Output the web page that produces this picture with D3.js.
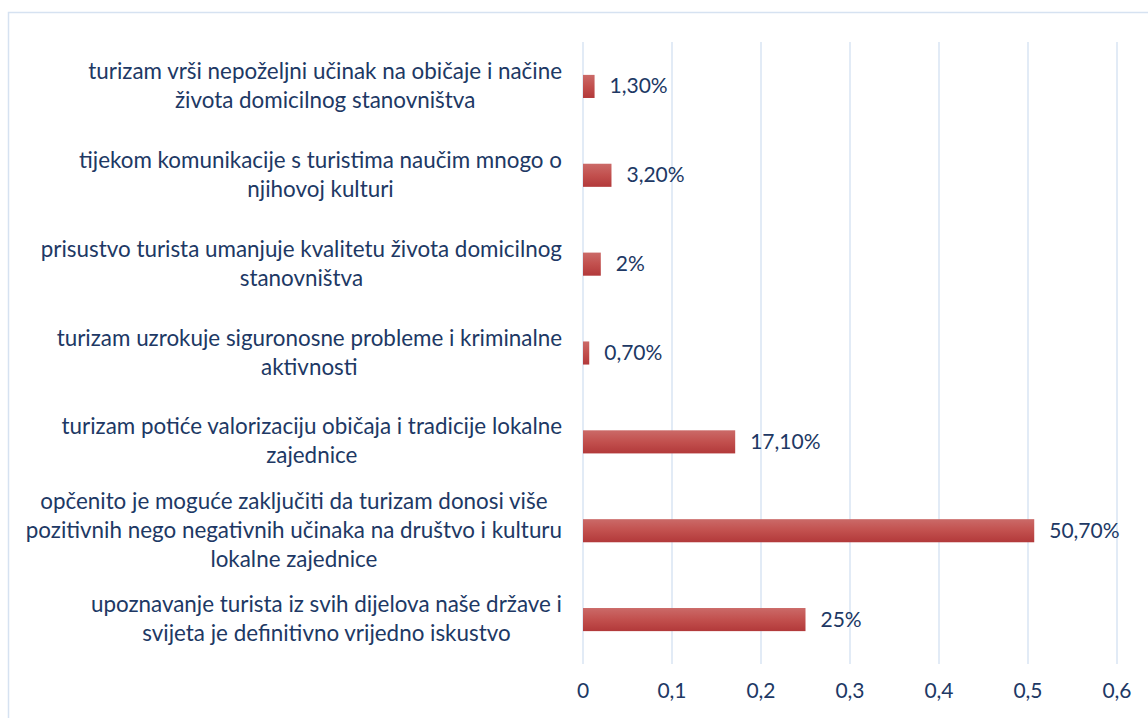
<!DOCTYPE html>
<html>
<head>
<meta charset="utf-8">
<script src="https://d3js.org/d3.v7.min.js"></script>
<style>
  body { margin: 0; background: #fff; }
  svg { display: block; font-family: Lato, "Open Sans", sans-serif; }
</style>
</head>
<body>
<svg id="chart" width="1148" height="718"></svg>
<script>
// data, top to bottom as in the chart
var categories = [
  "turizam vrši nepoželjni učinak na običaje i načine|života domicilnog stanovništva",
  "tijekom komunikacije s turistima naučim mnogo o|njihovoj kulturi",
  "prisustvo turista umanjuje kvalitetu života domicilnog|stanovništva",
  "turizam uzrokuje siguronosne probleme i kriminalne|aktivnosti",
  "turizam potiće valorizaciju običaja i tradicije lokalne|zajednice",
  "opčenito je moguće zaključiti da turizam donosi više|pozitivnih nego negativnih učinaka na društvo i kulturu|lokalne zajednice",
  "upoznavanje turista iz svih dijelova naše države i|svijeta je definitivno vrijedno iskustvo"
];
var values = [0.013, 0.032, 0.02, 0.007, 0.171, 0.507, 0.25];
var valueLabels = ["1,30%", "3,20%", "2%", "0,70%", "17,10%", "50,70%", "25%"];
var ticks = [0, 0.1, 0.2, 0.3, 0.4, 0.5, 0.6];

var svg = d3.select("#chart");
var textColor = "#203864";
var gridColor = "#d9e4f3";

// outer frame
svg.append("rect")
  .attr("x", 8.5).attr("y", 12.5)
  .attr("width", 1160).attr("height", 720)
  .attr("fill", "none")
  .attr("stroke", "#d6e2f1")
  .attr("stroke-width", 1.5);

var x = d3.scaleLinear().domain([0, 0.6]).range([583, 1117]);
var y = d3.scaleBand().domain(d3.range(categories.length)).range([42, 664]).paddingInner(0.74).paddingOuter(0.37);

var defs = svg.append("defs");
var grad = defs.append("linearGradient")
  .attr("id", "barGrad")
  .attr("x1", 0).attr("y1", 0).attr("x2", 0).attr("y2", 1);
grad.append("stop").attr("offset", "0%").attr("stop-color", "#cb6a68");
grad.append("stop").attr("offset", "50%").attr("stop-color", "#c2504e");
grad.append("stop").attr("offset", "100%").attr("stop-color", "#b2393a");

// gridlines
svg.append("g")
  .selectAll("line")
  .data(ticks)
  .enter()
  .append("line")
  .attr("x1", d => x(d)).attr("x2", d => x(d))
  .attr("y1", 42).attr("y2", 664)
  .attr("stroke", gridColor)
  .attr("stroke-width", 1.5);

// tick labels
svg.append("g")
  .selectAll("text")
  .data(ticks)
  .enter()
  .append("text")
  .attr("x", d => x(d))
  .attr("y", 698)
  .attr("text-anchor", "middle")
  .attr("font-size", "21px")
  .attr("fill", textColor)
  .text(d => String(d).replace(".", ","));

// bars
svg.append("g")
  .selectAll("rect")
  .data(values)
  .enter()
  .append("rect")
  .attr("x", x(0))
  .attr("y", (d, i) => y(i))
  .attr("width", d => x(d) - x(0))
  .attr("height", y.bandwidth())
  .attr("fill", "url(#barGrad)");

// value labels
svg.append("g")
  .selectAll("text")
  .data(values)
  .enter()
  .append("text")
  .attr("x", d => x(d) + 15)
  .attr("y", (d, i) => y(i) + y.bandwidth() / 2 + 7)
  .attr("font-size", "21px")
  .attr("fill", textColor)
  .text((d, i) => valueLabels[i]);

// category labels: lines centered in a block that is right aligned
var lineH = 29;
var labelRight = 562;
var labels = svg.append("g")
  .selectAll("g")
  .data(categories)
  .enter()
  .append("g");

labels.each(function (d, i) {
  var g = d3.select(this);
  var lines = d.split("|");
  var cy = y(i) + y.bandwidth() / 2;
  var t = g.append("text")
    .attr("font-size", "22.4px")
    .attr("fill", textColor)
    .attr("text-anchor", "middle");
  var spans = t.selectAll("tspan")
    .data(lines)
    .enter()
    .append("tspan")
    .attr("y", (l, j) => cy + 7 + (j - (lines.length - 1) / 2) * lineH)
    .text(l => l);
  var maxW = 0;
  spans.each(function () { maxW = Math.max(maxW, this.getComputedTextLength()); });
  spans.attr("x", labelRight - maxW / 2);
});
</script>
</body>
</html>
